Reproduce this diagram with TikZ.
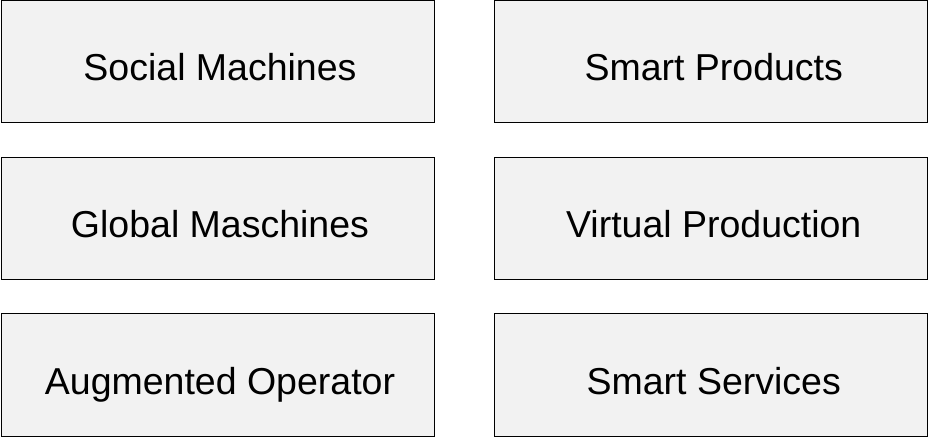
\documentclass[tikz,border=0pt]{standalone}
\usepackage{fontspec}
\setmainfont{Liberation Sans}
\usetikzlibrary{positioning}

\tikzset{
    fieldbox/.style={draw=black, line width=1pt, fill=black!5, minimum width=433pt, minimum height=122pt, inner sep=0pt, text height=38pt, text depth=0pt, execute at begin node=\hspace*{5pt}, font=\fontsize{37.5}{44}\selectfont}
}

\begin{document}
\begin{tikzpicture}[x=1pt, y=-1pt]

    % Rahmen (Bildgröße)
    \useasboundingbox (0,0) rectangle (929,438);

    % linke Spalte
    \node[fieldbox] (social) at (217.5, 62) {Social Machines};
    \node[fieldbox] (global) at (217.5, 218.5) {Global Maschines};
    \node[fieldbox] (augmented) at (217.5, 375) {Augmented Operator};

    % rechte Spalte
    \node[fieldbox] (products) at (711.25, 62) {Smart Products};
    \node[fieldbox] (virtual) at (711.25, 218.5) {Virtual Production};
    \node[fieldbox] (services) at (711.25, 375) {Smart Services};

\end{tikzpicture}
\end{document}
